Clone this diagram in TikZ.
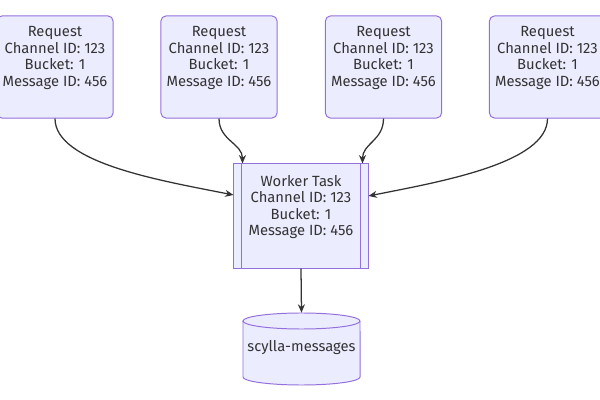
\documentclass[tikz,border=0pt]{standalone}
\usepackage{fontspec}
\setmainfont{Fira Sans}
\usetikzlibrary{arrows.meta}
\definecolor{boxfill}{HTML}{ECECFF}
\definecolor{boxline}{HTML}{9370DB}
\definecolor{ink}{HTML}{333333}

\begin{document}
\begin{tikzpicture}[x=0.025cm, y=-0.025cm,
    reqbox/.style={draw=boxline, fill=boxfill, line width=0.7pt, rounded corners=3.5pt,
                   minimum width=2.9cm, minimum height=2.55cm, inner sep=0pt},
    taskbox/.style={draw=boxline, fill=boxfill, line width=0.7pt,
                    minimum width=3.35cm, minimum height=2.6cm, inner sep=0pt},
    dbnode/.style={minimum width=2.925cm, minimum height=1.8cm, inner sep=0pt},
    txt/.style={align=center, text=ink, inner sep=0pt, font=\fontsize{10.5}{11.7}\selectfont},
    flow/.style={draw=ink, line width=0.9pt, -{Stealth[length=6pt,width=5pt]}}]

    \useasboundingbox (0,0) rectangle (600,400);

    %% requests
    \node[reqbox] (req1) at (55,67) {};
    \node[reqbox] (req2) at (219,67) {};
    \node[reqbox] (req3) at (383.5,67) {};
    \node[reqbox] (req4) at (547.5,67) {};

    \node[txt] (req1txt) at (55,58) {Request\\Channel ID: 123\\Bucket: 1\\Message ID: 456};
    \node[txt] (req2txt) at (219,58) {Request\\Channel ID: 123\\Bucket: 1\\Message ID: 456};
    \node[txt] (req3txt) at (383.5,58) {Request\\Channel ID: 123\\Bucket: 1\\Message ID: 456};
    \node[txt] (req4txt) at (547.5,58) {Request\\Channel ID: 123\\Bucket: 1\\Message ID: 456};

    %% worker
    \node[taskbox] (task) at (301,216) {};
    \draw[boxline, line width=0.7pt] ([xshift=0.2cm]task.north west) -- ([xshift=0.2cm]task.south west);
    \draw[boxline, line width=0.7pt] ([xshift=-0.2cm]task.north east) -- ([xshift=-0.2cm]task.south east);
    \node[txt] (tasktxt) at (301,207) {Worker Task\\Channel ID: 123\\Bucket: 1\\Message ID: 456};

    %% scylla
    \draw[boxline, fill=boxfill, line width=0.7pt]
        (243,321) -- (243,377) arc[start angle=180, end angle=360, x radius=1.4625cm, y radius=0.2cm]
        -- (360,321) arc[start angle=0, end angle=180, x radius=1.4625cm, y radius=0.2cm] -- cycle;
    \draw[boxline, line width=0.7pt]
        (243,321) arc[start angle=180, end angle=360, x radius=1.4625cm, y radius=0.2cm];
    \node[dbnode] (db) at (301.5,349) {};
    \node[txt] (dbtxt) at (301.5,348) {scylla-messages};

    %% arrows
    \draw[flow] (req1.south) .. controls +(0,45) and +(-70,-14) .. ([yshift=0.525cm]task.west);
    \draw[flow] (req2.south) .. controls +(0,22) and +(0,-20) .. ([xshift=0.225cm]task.north west);
    \draw[flow] (req3.south) .. controls +(0,22) and +(0,-20) .. ([xshift=-0.15cm]task.north east);
    \draw[flow] (req4.south) .. controls +(0,45) and +(70,-14) .. ([yshift=0.5cm]task.east);
    \draw[flow] (task.south) -- (db.north);

\end{tikzpicture}
\end{document}
